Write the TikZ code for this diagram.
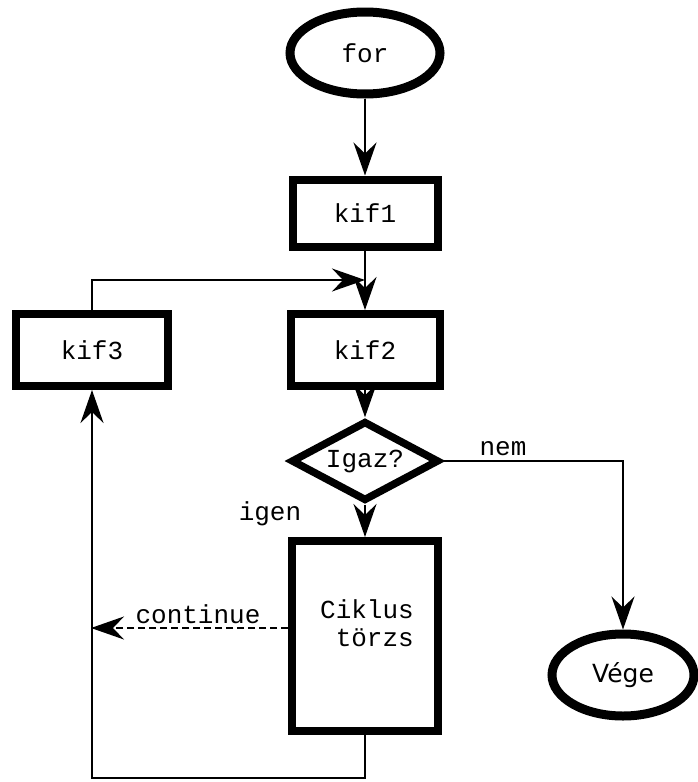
\documentclass[tikz,border=0pt]{standalone}
\usepackage{fontspec}
\setmonofont{Liberation Mono}
\newfontfamily\vegefont{DejaVu Sans}
\usetikzlibrary{shapes.geometric,arrows.meta}
\begin{document}
\begin{tikzpicture}[x=1pt,y=-1pt,
  every node/.style={font=\ttfamily\fontsize{26}{28}\selectfont},
  box/.style={draw, line width=8pt, inner sep=0pt},
  oval/.style={draw, ellipse, line width=9pt, inner sep=0pt,
               minimum width=150pt, minimum height=82pt},
  cond/.style={draw, diamond, line width=7.5pt, inner sep=0pt, aspect=2,
               minimum width=148pt, minimum height=80pt},
  flow/.style={line width=2pt, -{Stealth[length=33pt,width=23pt,inset=11pt]}},
  plain/.style={line width=2pt}
]
\useasboundingbox (0,0) rectangle (697,782);

% blocks
\node[oval] (for) at (365,53) {for};
\node[box, minimum width=145pt, minimum height=67pt] (kif1) at (365,213) {kif1};
\node[box, minimum width=149pt, minimum height=72pt] (kif2) at (365,350) {kif2};
\node[box, minimum width=152pt, minimum height=72pt] (kif3) at (92,350) {kif3};
\node[cond] (cond) at (365,461) {Igaz?};
\node[box, minimum width=146pt, minimum height=190pt] (body) at (365,636) {};
\node[align=right] (bodytext) at (367,623) {Ciklus\\törzs};
\node[oval, minimum width=142pt] (vege) at (623,675) {\vegefont\fontsize{25}{28}\selectfont Vége};

% labels
\node (nem) at (503,449) {nem};
\node (igen) at (270,514) {igen};
\node (cont) at (198,614) {continue};

% helper points
\coordinate (join) at (365,280);
\coordinate (bot) at (0,778);
\coordinate (back) at (91,628);

% connectors
\draw[flow] (for.south) -- (kif1.north);
\draw[flow] (kif1.south) -- (kif2.north);
\draw[flow] (kif3.north) |- (join);
\draw[flow] (kif2.south) -- (cond.north);
\draw[flow] (cond.south) -- (body.north);
\draw[flow] (cond.east) -| (vege.north);
\draw[flow] (body.south) -- (body.south |- bot) -| (kif3.south);
\draw[flow, dash pattern=on 7pt off 4pt] (body.west |- back) -- (back);
\end{tikzpicture}
\end{document}
